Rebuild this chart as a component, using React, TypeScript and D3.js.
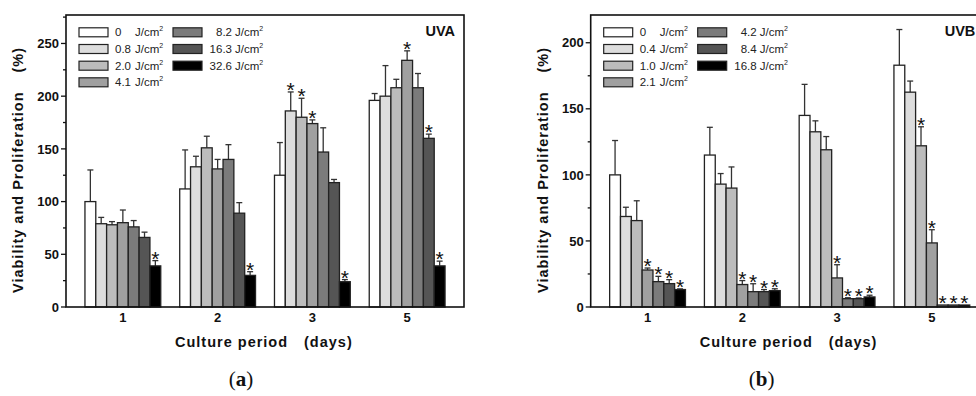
import { useEffect, useRef } from "react";
import * as d3 from "d3";

const days = ["1", "2", "3", "5"];

const uvaDoses = ["0", "0.8", "2.0", "4.1", "8.2", "16.3", "32.6"];
const uvaMean = [
  [100, 79, 78, 80, 76, 66, 39],
  [112, 133, 151, 131, 140, 89, 30],
  [125, 186, 180, 174, 147, 118, 24],
  [196, 200, 208, 234, 208, 160, 39],
];
const uvaErr = [
  [30, 6, 3, 12, 6, 5, 5],
  [37, 10, 11, 9, 14, 10, 3.5],
  [31, 18, 18, 3.5, 23, 3, 2],
  [6.5, 29, 8, 9, 13.5, 4, 4.5],
];
const uvaSig = [
  [0, 0, 0, 0, 0, 0, 1],
  [0, 0, 0, 0, 0, 0, 1],
  [0, 1, 1, 1, 0, 0, 1],
  [0, 0, 0, 1, 0, 1, 1],
];

const uvbDoses = ["0", "0.4", "1.0", "2.1", "4.2", "8.4", "16.8"];
const uvbMean = [
  [100, 68.5, 65.4, 28, 19.2, 17.7, 13.2],
  [115, 93, 90, 17, 11.6, 11.6, 12.4],
  [145, 132.6, 119, 22, 6.3, 6.3, 7.6],
  [183, 162.6, 122, 48.5, 1.5, 1.5, 1.5],
];
const uvbErr = [
  [26, 7, 15, 1.5, 4, 3, 0.5],
  [21, 8, 16, 3, 6, 1.6, 1.4],
  [23.5, 8.3, 10, 10, 0.7, 0.5, 1.3],
  [27, 8.4, 14.4, 10, 0, 0, 0],
];
const uvbSig = [
  [0, 0, 0, 1, 1, 1, 1],
  [0, 0, 0, 1, 1, 1, 1],
  [0, 0, 0, 1, 1, 1, 1],
  [0, 0, 1, 1, 1, 1, 1],
];

const fills = ["#ffffff", "#dddddd", "#bcbcbc", "#a0a0a0", "#7b7b7b", "#555555", "#000000"];
const SANS = "'Liberation Sans', Arial, sans-serif";

interface PanelOpts {
  left: number;
  yMax: number;
  doses: string[];
  mean: number[][];
  err: number[][];
  sig: number[][];
  tag: string;
  caption: string;
}

function drawPanel(svg: d3.Selection<SVGSVGElement, unknown, null, undefined>, o: PanelOpts) {
  const top = 15;
  const bottom = 307;
  const width = 398;
  const g = svg.append("g").attr("transform", `translate(${o.left},0)`);

  const x = d3.scaleBand<string>().domain(days).range([0, width]).paddingInner(0.2).paddingOuter(0.2);
  const xs = d3.scaleBand<number>().domain(d3.range(7)).range([0, x.bandwidth()]);
  const y = d3.scaleLinear().domain([0, o.yMax]).range([bottom, top]);

  // bars
  days.forEach((day, gi) => {
    const grp = g.append("g").attr("transform", `translate(${x(day)},0)`);
    o.mean[gi].forEach((v, i) => {
      const bx = xs(i)!;
      const cx = bx + xs.bandwidth() / 2;
      const e = o.err[gi][i];
      if (e > 0) {
        grp.append("line")
          .attr("x1", cx).attr("x2", cx)
          .attr("y1", y(v)).attr("y2", y(v + e))
          .attr("stroke", "#333").attr("stroke-width", 1.3);
        grp.append("line")
          .attr("x1", cx - 3).attr("x2", cx + 3)
          .attr("y1", y(v + e)).attr("y2", y(v + e))
          .attr("stroke", "#333").attr("stroke-width", 1.3);
      }
      grp.append("rect")
        .attr("x", bx).attr("y", y(v))
        .attr("width", xs.bandwidth()).attr("height", y(0) - y(v))
        .attr("fill", fills[i]).attr("stroke", "#222").attr("stroke-width", 1.3);
      if (o.sig[gi][i]) {
        // asterisk sits just above the error cap
        grp.append("text")
          .attr("x", cx).attr("y", y(v + e) + 5)
          .attr("text-anchor", "middle")
          .attr("font-family", SANS).attr("font-size", 21)
          .attr("fill", "#111")
          .text("*");
      }
    });
  });

  // frame
  g.append("rect")
    .attr("x", 0).attr("y", top).attr("width", width).attr("height", bottom - top)
    .attr("fill", "none").attr("stroke", "#111").attr("stroke-width", 1.6);

  // y ticks
  d3.range(0, o.yMax + 1, 25).forEach((t) => {
    const major = t % 50 === 0;
    g.append("line")
      .attr("x1", major ? -5 : -3).attr("x2", 0)
      .attr("y1", y(t)).attr("y2", y(t))
      .attr("stroke", "#111").attr("stroke-width", 1.3);
    if (major) {
      g.append("text")
        .attr("x", -7).attr("y", y(t))
        .attr("dy", "0.36em")
        .attr("text-anchor", "end")
        .attr("font-family", SANS).attr("font-weight", "bold").attr("font-size", 13)
        .attr("fill", "#111")
        .text(t);
    }
  });

  // x tick labels
  days.forEach((day) => {
    g.append("text")
      .attr("x", x(day)! + x.bandwidth() / 2).attr("y", 322)
      .attr("text-anchor", "middle")
      .attr("font-family", SANS).attr("font-weight", "bold").attr("font-size", 13)
      .attr("fill", "#111")
      .text(day);
  });

  // axis titles
  const titleStyle = (t: d3.Selection<SVGTextElement, unknown, null, undefined>) =>
    t.attr("font-family", SANS).attr("font-weight", "bold").attr("font-size", 14.5)
      .attr("letter-spacing", 1).attr("fill", "#111");
  g.append("text").attr("x", 109).attr("y", 347).call(titleStyle).text("Culture period");
  g.append("text").attr("x", 238).attr("y", 347).call(titleStyle).text("(days)");

  g.append("text")
    .attr("transform", `translate(-43,293) rotate(-90)`)
    .call(titleStyle).attr("text-anchor", "start")
    .text("Viability and Proliferation");
  g.append("text")
    .attr("transform", `translate(-43,47) rotate(-90)`)
    .call(titleStyle).attr("text-anchor", "end")
    .text("(%)");

  // panel tag
  g.append("text")
    .attr("x", o.tag === "UVA" ? width - 9 : width - 44).attr("y", 36)
    .attr("text-anchor", o.tag === "UVA" ? "end" : "start")
    .attr("font-family", SANS).attr("font-weight", "bold").attr("font-size", 14.5)
    .attr("fill", "#111")
    .text(o.tag);

  // legend
  const rowY = [32.3, 49, 65.7, 82.3];
  o.doses.forEach((d, i) => {
    const col = i < 4 ? 0 : 1;
    const ry = rowY[col === 0 ? i : i - 4];
    const bx = col === 0 ? 13 : 107;
    g.append("rect")
      .attr("x", bx).attr("y", ry - 4.5).attr("width", 29).attr("height", 9)
      .attr("fill", fills[i]).attr("stroke", "#222").attr("stroke-width", 1.2);
    const num = g.append("text")
      .attr("y", ry).attr("dy", "0.36em")
      .attr("font-family", SANS).attr("font-size", 11.5).attr("fill", "#222");
    if (col === 0) num.attr("x", 49).attr("text-anchor", "start");
    else num.attr("x", 166).attr("text-anchor", "end");
    num.text(d);
    const unit = g.append("text")
      .attr("x", col === 0 ? 69 : 169).attr("y", ry).attr("dy", "0.36em")
      .attr("font-family", SANS).attr("font-size", 11.5).attr("fill", "#222");
    unit.append("tspan").text("J/cm");
    unit.append("tspan").attr("font-size", 7).attr("dy", -5).text("2");
  });

  // caption
  const cap = g.append("text")
    .attr("x", o.caption === "a" ? 175 : 171).attr("y", 386)
    .attr("text-anchor", "middle")
    .attr("font-family", "'Liberation Serif', 'Times New Roman', serif")
    .attr("font-size", 21).attr("fill", "#111");
  cap.append("tspan").text("(");
  cap.append("tspan").attr("font-weight", "bold").text(o.caption);
  cap.append("tspan").text(")");
}

export default function App() {
  const svgRef = useRef<SVGSVGElement>(null);

  useEffect(() => {
    if (!svgRef.current) return;
    const svg = d3.select(svgRef.current);
    svg.selectAll("*").remove();

    drawPanel(svg, {
      left: 66, yMax: 277, doses: uvaDoses,
      mean: uvaMean, err: uvaErr, sig: uvaSig, tag: "UVA", caption: "a",
    });
    drawPanel(svg, {
      left: 590.7, yMax: 221, doses: uvbDoses,
      mean: uvbMean, err: uvbErr, sig: uvbSig, tag: "UVB", caption: "b",
    });
  }, []);

  return (
    <svg
      ref={svgRef}
      width={976}
      height={396}
      style={{ position: "absolute", left: 0, top: 0, background: "#fff", display: "block" }}
    />
  );
}
